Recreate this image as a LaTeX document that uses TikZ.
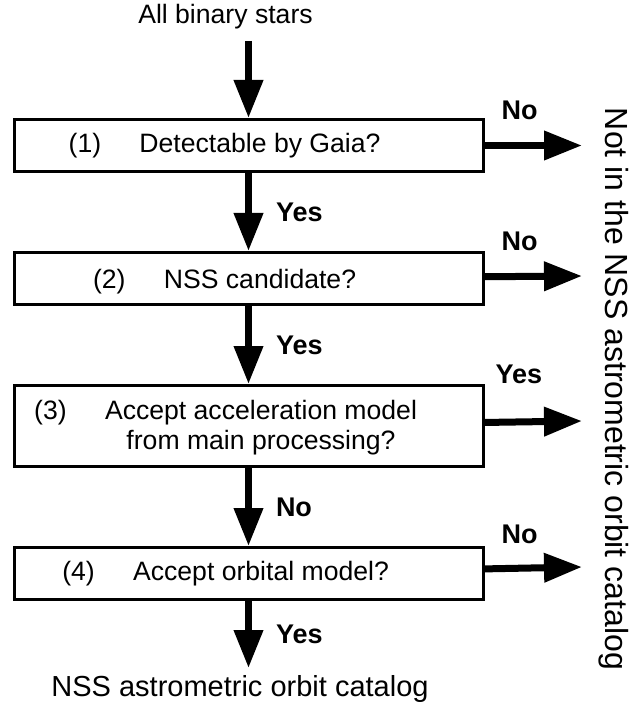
\documentclass[tikz,border=0pt]{standalone}
\usepackage{fontspec}
\setmainfont{Liberation Sans}
\usetikzlibrary{arrows.meta,positioning}
\tikzset{x=0.5pt, y=-0.5pt, % one unit is one pixel of the original figure
>={Triangle[length=19pt,width=14pt]}, % big filled arrow heads
node distance=39pt, % gap between two boxes
}

\begin{document}
\begin{tikzpicture}[font=\fontsize{13.3}{15}\selectfont,
	box/.style={draw, line width=1.5pt, minimum width=234.5pt, minimum height=26pt, inner sep=0pt},
	txt/.style={inner sep=0pt, align=center},
	flow/.style={->, line width=3.5pt},
	lbl/.style={inner sep=0pt, font=\fontsize{13.5}{15}\selectfont\bfseries}]
\useasboundingbox (0,0) rectangle (639,711);
\node[txt] (src) at (225.5,17) {All binary stars};
\coordinate (in) at (248.5,41);
% the four tests
\node[box] (b1) at (248.5,145.5) {};
\node[box, below=of b1] (b2) {};
\node[box, below=of b2, minimum height=40.5pt] (b3) {};
\node[box, below=of b3] (b4) {};
\node[txt] (t1) at ([xshift=5.75pt]b1.center) {Detectable by Gaia?};
\node[txt] (t2) at ([xshift=5.75pt]b2.center) {NSS candidate?};
\node[txt] (t3) at ([xshift=6.25pt, yshift=-1pt]b3.center) {Accept acceleration model\\from main processing?};
\node[txt] (t4) at ([xshift=6.25pt]b4.center) {Accept orbital model?};
\node[txt, left=18.75pt of t1.base west, anchor=base east] (n1) {(1)};
\node[txt, left=18.75pt of t2.base west, anchor=base east] (n2) {(2)};
\node[txt, left=18.75pt of t3.north west, anchor=north east] (n3) {(3)};
\node[txt, left=18.75pt of t4.base west, anchor=base east] (n4) {(4)};
% way down
\coordinate (out) at (248.5,668);
\node[txt, font=\fontsize{14.5}{16}\selectfont] (dst) at (240,689) {NSS astrometric orbit catalog};
\draw[flow] (in) -- (b1);
\draw[flow] (b1) -- node[lbl, right=12pt] {Yes} (b2);
\draw[flow] (b2) -- node[lbl, right=12pt] {Yes} (b3);
\draw[flow] (b3) -- node[lbl, right=12pt] {No} (b4);
\draw[flow] (b4) -- node[lbl, right=12pt] {Yes} (out);
% way out
\coordinate (o1) at (582,145.5);
\coordinate (o2) at (582,276);
\coordinate (o3) at (582,421);
\coordinate (o4) at (582,567);
\draw[flow] (b1) -- node[lbl, at start, anchor=south west, xshift=6.75pt, yshift=11pt] {No} (o1);
\draw[flow] (b2) -- node[lbl, at start, anchor=south west, xshift=6.75pt, yshift=11pt] {No} (o2);
\draw[flow] (b3) -- node[lbl, at start, anchor=south west, xshift=3.75pt, yshift=17.5pt] {Yes} (o3);
\draw[flow] (b4) -- node[lbl, at start, anchor=south west, xshift=6.75pt, yshift=11pt] {No} (o4);
\node[txt, rotate=-90, font=\fontsize{16}{18}\selectfont] (rej) at (614,389) {Not in the NSS astrometric orbit catalog};
\end{tikzpicture}
\end{document}
